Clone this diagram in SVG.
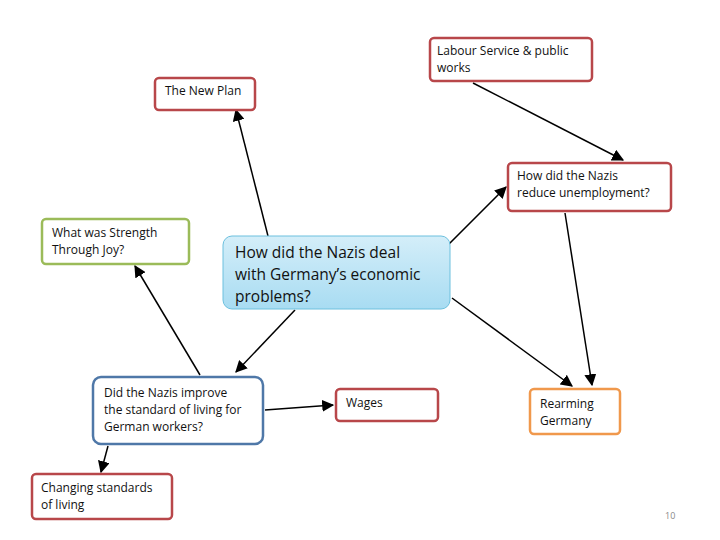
<svg xmlns="http://www.w3.org/2000/svg" width="720" height="540" viewBox="0 0 720 540">
<style>
.b{fill:#fff;stroke-width:2.5}
.r{stroke:#b8474a}
.t{font-family:"Open Sans","Liberation Sans",sans-serif;font-size:12px;fill:#111}
.c{stroke:#000;stroke-width:1.5;fill:none;marker-end:url(#a)}
</style>
<defs>
<marker id="a" viewBox="0 0 10 10" refX="9" refY="5" markerWidth="8" markerHeight="8" orient="auto"><path d="M0,0L10,5L0,10z" fill="#000"/></marker>
<linearGradient id="g" x1="0" y1="0" x2="0" y2="1"><stop offset="0" stop-color="#d4eef9"/><stop offset="1" stop-color="#a8dcf2"/></linearGradient>
</defs>
<rect width="720" height="540" fill="#fff"/>
<g id="connectors">
<line class="c" x1="473" y1="83" x2="623" y2="160"/>
<line class="c" x1="268" y1="236" x2="236" y2="110"/>
<line class="c" x1="200" y1="375" x2="135" y2="266"/>
<line class="c" x1="295" y1="310" x2="236" y2="372"/>
<line class="c" x1="565" y1="213" x2="592" y2="385"/>
<line class="c" x1="423" y1="270" x2="506" y2="187"/>
<line class="c" x1="452" y1="298" x2="572" y2="386"/>
<line class="c" x1="265" y1="410" x2="333" y2="405"/>
<line class="c" x1="108" y1="446" x2="101" y2="472"/>
</g>
<g id="labour"><rect class="b r" x="430" y="38" width="162" height="43" rx="4"/><text class="t" x="437" y="55">Labour Service &amp; public</text><text class="t" x="437" y="72">works</text></g>
<g id="newplan"><rect class="b r" x="155" y="78" width="100" height="32" rx="4"/><text class="t" x="165" y="95">The New Plan</text></g>
<g id="unemp"><rect class="b r" x="508" y="163" width="163" height="48" rx="4"/><text class="t" x="517" y="180">How did the Nazis</text><text class="t" x="517" y="197">reduce unemployment?</text></g>
<g id="joy"><rect class="b" stroke="#9bbb59" x="42" y="219" width="147" height="45" rx="4"/><text class="t" x="52" y="237">What was Strength</text><text class="t" x="52" y="254">Through Joy?</text></g>
<g id="central"><rect x="223" y="236" width="227" height="73" rx="9" fill="url(#g)" stroke="#6cc0de" stroke-width="1"/><text font-family="'Open Sans','Liberation Sans',sans-serif" font-size="15.5" fill="#111"><tspan x="235" y="258">How did the Nazis deal</tspan><tspan x="235" y="280">with Germany’s economic</tspan><tspan x="235" y="302">problems?</tspan></text></g>
<g id="living"><rect class="b" stroke="#4f78a8" stroke-width="3" x="93" y="377" width="170" height="67" rx="8"/><text class="t" x="104" y="397">Did  the Nazis improve</text><text class="t" x="104" y="414">the standard of living for</text><text class="t" x="104" y="431">German workers?</text></g>
<g id="wages"><rect class="b r" x="336" y="389" width="102" height="32" rx="4"/><text class="t" x="346" y="407">Wages</text></g>
<g id="rearm"><rect class="b" stroke="#f0984c" x="530" y="389" width="90" height="45" rx="4"/><text class="t" x="540" y="408">Rearming</text><text class="t" x="540" y="425">Germany</text></g>
<g id="changing"><rect class="b r" x="32" y="474" width="140" height="45" rx="4"/><text class="t" x="41" y="492">Changing standards</text><text class="t" x="41" y="509">of living</text></g>
<text x="665" y="519" font-family="'Open Sans','Liberation Sans',sans-serif" font-size="9" fill="#888">10</text>
</svg>
